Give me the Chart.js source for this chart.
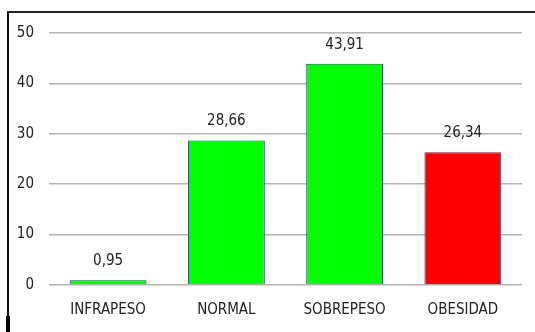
<!DOCTYPE html>
<html>
<head>
<meta charset="utf-8">
<script src="https://cdn.jsdelivr.net/npm/chart.js@4/dist/chart.umd.min.js"></script>
<style>
  html, body { margin: 0; padding: 0; background: #fff; }
  #frame {
    position: absolute; left: 7px; top: 11px; width: 528px; height: 321px;
    border-top: 2px solid #222; border-left: 2px solid #111; box-sizing: border-box;
  }
  #frame-foot { position: absolute; left: 6px; top: 316px; width: 4px; height: 16px; background: #000; }
  #wrap { position: absolute; left: 0; top: 0; width: 535px; height: 332px; }
</style>
</head>
<body>
<div id="frame"></div>
<div id="frame-foot"></div>
<div id="wrap"><canvas id="c" width="535" height="332"></canvas></div>
<script>
// Weight categories and their percentages
const categories = ['INFRAPESO', 'NORMAL', 'SOBREPESO', 'OBESIDAD'];
const values = [0.95, 28.66, 43.91, 26.34];
const barColors = ['#00ff00', '#00ff00', '#00ff00', '#ff0000'];
const yTicks = [0, 10, 20, 30, 40, 50];

const FONT = "'DejaVu Sans Condensed', 'Open Sans', sans-serif";
const FONT_SIZE = 15;

// Writes each bar's value (comma decimal) above the bar
const valueLabels = {
  id: 'valueLabels',
  afterDatasetsDraw(chart) {
    const ctx = chart.ctx;
    const meta = chart.getDatasetMeta(0);
    ctx.save();
    ctx.font = FONT_SIZE + 'px ' + FONT;
    ctx.fillStyle = '#222';
    ctx.textAlign = 'center';
    ctx.textBaseline = 'middle';
    meta.data.forEach((bar, i) => {
      const txt = values[i].toFixed(2).replace('.', ',');
      ctx.fillText(txt, bar.x, bar.y - 19);
    });
    ctx.restore();
  }
};

new Chart(document.getElementById('c'), {
  type: 'bar',
  data: {
    labels: categories,
    datasets: [{
      data: values,
      backgroundColor: barColors,
      borderColor: '#1f3d7a',
      borderWidth: 1,
      categoryPercentage: 0.65,
      barPercentage: 1
    }]
  },
  options: {
    responsive: false,
    animation: false,
    layout: { padding: { top: 33, right: 13, left: 0, bottom: 0 } },
    plugins: { legend: { display: false }, tooltip: { enabled: false } },
    scales: {
      x: {
        grid: { display: false, drawTicks: false },
        border: { display: false },
        ticks: { color: '#222', font: { family: FONT, size: FONT_SIZE }, padding: 16, maxRotation: 0 },
        afterFit(scale) { scale.height = 47; }
      },
      y: {
        min: 0, max: 50,
        afterBuildTicks(scale) { scale.ticks = yTicks.map(v => ({ value: v })); },
        grid: { color: '#b4b4b4', lineWidth: 1.5, drawTicks: false },
        border: { display: false },
        ticks: { color: '#222', font: { family: FONT, size: FONT_SIZE }, padding: 15 },
        afterFit(scale) { scale.width = 49; }
      }
    }
  },
  plugins: [valueLabels]
});
</script>
</body>
</html>
